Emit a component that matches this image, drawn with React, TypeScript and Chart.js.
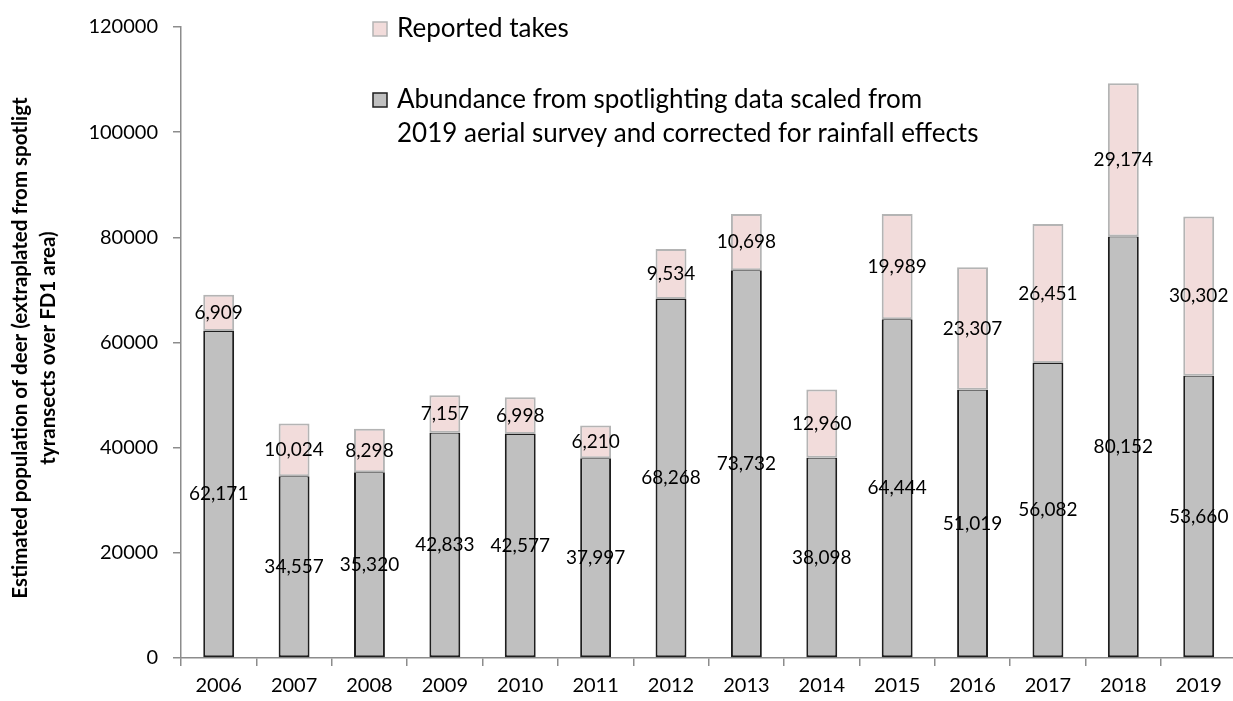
import React, { useEffect, useRef } from "react";
import { Chart, registerables } from "chart.js";

Chart.register(...registerables);

// Survey years on the category axis
const years = [
  "2006", "2007", "2008", "2009", "2010", "2011", "2012",
  "2013", "2014", "2015", "2016", "2017", "2018", "2019",
];

// Abundance from spotlighting data (scaled to the 2019 aerial survey, rainfall-corrected)
const abundance = [
  62171, 34557, 35320, 42833, 42577, 37997, 68268,
  73732, 38098, 64444, 51019, 56082, 80152, 53660,
];

// Reported takes stacked on top of the abundance estimate
const reportedTakes = [
  6909, 10024, 8298, 7157, 6998, 6210, 9534,
  10698, 12960, 19989, 23307, 26451, 29174, 30302,
];

// Value axis ticks
const yTicks = [0, 20000, 40000, 60000, 80000, 100000, 120000];

const abundanceLabel = [
  "Abundance from spotlighting data scaled from",
  "2019 aerial survey and corrected for rainfall effects",
];
const takesLabel = ["Reported takes"];

const yTitleLines = [
  "Estimated population of deer (extraplated from spotligt",
  "tyransects over FD1 area)",
];

const FONT = "Lato, 'Open Sans', sans-serif";
const AXIS_COLOR = "#8c8c8c";

// Value labels centred inside each stacked segment
const segmentLabels = {
  id: "segmentLabels",
  afterDatasetsDraw(chart: any) {
    const ctx = chart.ctx;
    ctx.save();
    ctx.font = `19px ${FONT}`;
    ctx.fillStyle = "#000";
    ctx.textAlign = "center";
    ctx.textBaseline = "middle";
    chart.data.datasets.forEach((ds: any, di: number) => {
      const meta = chart.getDatasetMeta(di);
      meta.data.forEach((bar: any, i: number) => {
        const { x, y, base } = bar.getProps(["x", "y", "base"], true);
        const v = ds.data[i] as number;
        ctx.fillText(v.toLocaleString("en-US"), x, (y + base) / 2);
      });
    });
    ctx.restore();
  },
};

// Legend swatches and wrapped entries inside the plot, plus the two-line y title
const sideTexts = {
  id: "sideTexts",
  afterDraw(chart: any) {
    const ctx = chart.ctx;
    ctx.save();

    // y-axis title, rotated
    ctx.font = `bold 20.5px ${FONT}`;
    ctx.fillStyle = "#000";
    ctx.textAlign = "center";
    ctx.textBaseline = "alphabetic";
    const cy = 348;
    yTitleLines.forEach((line, k) => {
      ctx.save();
      ctx.translate(27 + k * 28, cy);
      ctx.rotate(-Math.PI / 2);
      ctx.fillText(line, 0, 0);
      ctx.restore();
    });

    // legend
    const ds = chart.data.datasets;
    const entries = [
      { lines: takesLabel, fill: ds[1].backgroundColor, stroke: ds[1].borderColor, baseline: 37 },
      { lines: abundanceLabel, fill: ds[0].backgroundColor, stroke: ds[0].borderColor, baseline: 108 },
    ];
    ctx.font = `26px ${FONT}`;
    ctx.textAlign = "left";
    entries.forEach((e) => {
      const boxTop = e.baseline - 15;
      ctx.fillStyle = e.fill;
      ctx.fillRect(373, boxTop, 14, 14);
      ctx.lineWidth = 1.5;
      ctx.strokeStyle = e.stroke;
      ctx.strokeRect(373, boxTop, 14, 14);
      ctx.fillStyle = "#000";
      e.lines.forEach((line, k) => {
        ctx.fillText(line, 397, e.baseline + k * 34);
      });
    });

    ctx.restore();
  },
};

export default function App() {
  const ref = useRef<HTMLCanvasElement | null>(null);

  useEffect(() => {
    if (!ref.current) return;
    const chart = new Chart(ref.current, {
      type: "bar",
      data: {
        labels: years,
        datasets: [
          {
            label: abundanceLabel.join(" "),
            data: abundance,
            backgroundColor: "#c0c0c0",
            borderColor: "#1e1e1e",
            borderWidth: { top: 1, left: 2, right: 2, bottom: 2 },
            borderSkipped: false,
            categoryPercentage: 1,
            barPercentage: 0.41,
          },
          {
            label: takesLabel[0],
            data: reportedTakes,
            backgroundColor: "#f2dcdb",
            borderColor: "#b4b4b4",
            borderWidth: 2,
            borderSkipped: false,
            categoryPercentage: 1,
            barPercentage: 0.41,
          },
        ],
      },
      options: {
        responsive: false,
        animation: false,
        layout: { padding: { left: 0, top: 21, right: 3.6, bottom: 0 } },
        plugins: {
          legend: { display: false },
          tooltip: { enabled: false },
        },
        scales: {
          x: {
            stacked: true,
            grid: {
              display: true,
              offset: true,
              drawOnChartArea: false,
              drawTicks: true,
              tickLength: 8,
              color: AXIS_COLOR,
              lineWidth: 1.5,
            },
            border: { display: true, color: AXIS_COLOR, width: 1.5 },
            ticks: {
              color: "#000",
              font: { family: FONT, size: 20 },
              padding: 8,
              maxRotation: 0,
              autoSkip: false,
            },
            afterFit(scale: any) {
              scale.height = 43;
            },
          },
          y: {
            stacked: true,
            min: 0,
            max: 120000,
            afterBuildTicks(scale: any) {
              scale.ticks = yTicks.map((v) => ({ value: v }));
            },
            grid: {
              display: true,
              drawOnChartArea: false,
              drawTicks: true,
              tickLength: 8,
              color: AXIS_COLOR,
              lineWidth: 1.5,
            },
            border: { display: true, color: AXIS_COLOR, width: 1.5 },
            ticks: {
              color: "#000",
              font: { family: FONT, size: 20 },
              padding: 15,
              callback: (v: any) => String(v),
            },
            afterFit(scale: any) {
              scale.width = 181;
            },
          },
        },
      },
      plugins: [segmentLabels, sideTexts],
    });
    return () => chart.destroy();
  }, []);

  return (
    <div
      style={{
        position: "fixed",
        left: 0,
        top: 0,
        width: 1233,
        height: 701,
        overflow: "hidden",
        background: "#fff",
      }}
    >
      <canvas ref={ref} width={1240} height={701} style={{ width: 1240, height: 701, display: "block" }} />
    </div>
  );
}
